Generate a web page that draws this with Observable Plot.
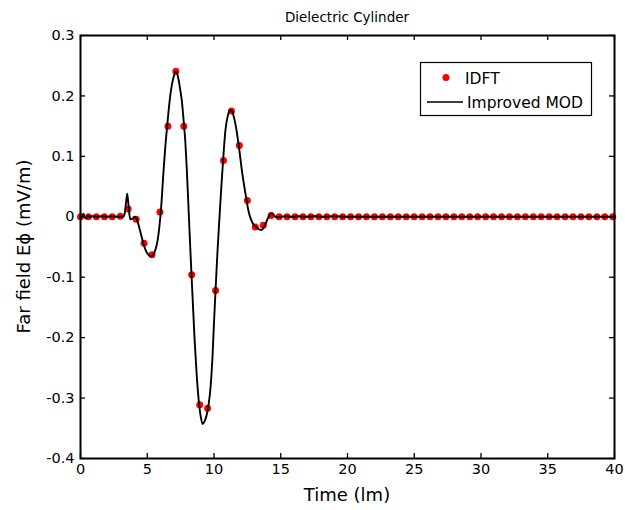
<!DOCTYPE html>
<html>
<head>
<meta charset="utf-8">
<script src="https://cdn.jsdelivr.net/npm/d3@7"></script>
<script src="https://cdn.jsdelivr.net/npm/@observablehq/plot@0.6"></script>
<style>
  body { margin: 0; background: #fff; }
  #chart svg { display: block; }
</style>
</head>
<body>
<div id="chart"></div>
<script>
// ---- Data ----
const titleText = "Dielectric Cylinder";
const xLabel = "Time (lm)";
const yLabel = "Far field E\u03d5 (mV/m)";
const seriesNames = ["IDFT", "Improved MOD"];

const xTicks = [0, 5, 10, 15, 20, 25, 30, 35, 40];
const yTicks = [-0.4, -0.3, -0.2, -0.1, 0, 0.1, 0.2, 0.3];

// IDFT samples (red dots)
const idftTime = [
  0, 0.6, 1.19, 1.79, 2.38, 2.98, 3.57, 4.17, 4.76, 5.36,
  5.95, 6.55, 7.14, 7.74, 8.33, 8.93, 9.52, 10.12, 10.71, 11.31,
  11.9, 12.5, 13.09, 13.69, 14.28, 14.88, 15.47, 16.07, 16.66, 17.26,
  17.85, 18.45, 19.04, 19.64, 20.23, 20.83, 21.42, 22.02, 22.61, 23.21,
  23.8, 24.4, 24.99, 25.59, 26.18, 26.78, 27.37, 27.97, 28.56, 29.16,
  29.75, 30.35, 30.94, 31.54, 32.13, 32.73, 33.32, 33.92, 34.51, 35.11,
  35.7, 36.3, 36.89, 37.49, 38.08, 38.68, 39.27, 39.87
];
const idftValue = [
  0, 0, 0, 0, 0, 0.001, 0.013, -0.004, -0.044, -0.063,
  0.008, 0.150, 0.241, 0.150, -0.096, -0.311, -0.317, -0.122, 0.093, 0.175,
  0.118, 0.027, -0.017, -0.014, 0.002, 0, 0, 0, 0, 0,
  0, 0, 0, 0, 0, 0, 0, 0, 0, 0,
  0, 0, 0, 0, 0, 0, 0, 0, 0, 0,
  0, 0, 0, 0, 0, 0, 0, 0, 0, 0,
  0, 0, 0, 0, 0, 0, 0, 0
];

// Improved MOD (black line)
const modTime = [
  0, 0.12, 0.22, 0.32, 0.42, 0.55, 0.7, 0.9, 1.2, 1.6,
  2.0, 2.4, 2.8, 3.2, 3.3, 3.42, 3.5, 3.6, 3.72, 3.9,
  4.05, 4.15, 4.29, 4.45, 4.59, 4.72, 4.84, 5.09, 5.29, 5.42,
  5.54, 5.66, 5.77, 5.9, 6.04, 6.22, 6.35, 6.5, 6.71, 6.85,
  6.97, 7.14, 7.25, 7.34, 7.45, 7.59, 7.74, 7.85, 7.96, 8.1,
  8.25, 8.4, 8.55, 8.7, 8.85, 9.0, 9.15, 9.3, 9.45, 9.6,
  9.75, 9.88, 10.0, 10.12, 10.25, 10.4, 10.55, 10.68, 10.85, 11.03,
  11.15, 11.24, 11.35, 11.43, 11.61, 11.86, 12.11, 12.36, 12.61, 12.86,
  13.05, 13.23, 13.4, 13.56, 13.72, 13.86, 14.0, 14.11, 14.28, 14.4,
  14.55, 14.73, 15.0, 15.4, 15.8, 16.3, 16.8, 17.5, 18.2, 19.0,
  20.0, 22.0, 25.0, 30.0, 35.0, 40.0
];
const modValue = [
  0, 0.001, 0.005, -0.001, -0.003, 0.002, 0, 0.001, 0, 0.001,
  0, 0.001, 0, 0, 0.004, 0.025, 0.038, 0.018, -0.004, -0.003,
  0, -0.001, -0.009, -0.022, -0.034, -0.045, -0.053, -0.063, -0.066, -0.064,
  -0.059, -0.051, -0.040, -0.018, 0.015, 0.076, 0.115, 0.152, 0.198, 0.219,
  0.231, 0.240, 0.236, 0.228, 0.213, 0.192, 0.155, 0.125, 0.080, 0.010,
  -0.065, -0.135, -0.205, -0.260, -0.303, -0.330, -0.343, -0.338, -0.328, -0.310,
  -0.280, -0.235, -0.175, -0.120, -0.062, -0.005, 0.050, 0.093, 0.142, 0.167,
  0.175, 0.177, 0.175, 0.170, 0.153, 0.117, 0.073, 0.038, 0.007, -0.009,
  -0.015, -0.018, -0.021, -0.022, -0.018, -0.012, -0.004, 0.001, 0.006, 0.005,
  0.001, -0.001, 0, 0.001, 0, 0.001, 0, 0.001, 0, 0.001,
  0, 0, 0, 0, 0, 0
];

// ---- Build tables ----
const idft = idftTime.map((t, i) => ({t, v: idftValue[i]}));
const mod = modTime.map((t, i) => ({t, v: modValue[i]}));

// ---- Layout ----
const W = 625, H = 510;
const mL = 80, mR = 11, mT = 35, mB = 52;
const innerW = W - mL - mR, innerH = H - mT - mB;
const tickLen = 5;
const font = "DejaVu Sans";

const fmtY = d => (Math.abs(d) < 1e-9 ? "0" : String(+d.toFixed(1)));

const plot = Plot.plot({
  width: W,
  height: H,
  marginLeft: mL,
  marginRight: mR,
  marginTop: mT,
  marginBottom: mB,
  style: {fontFamily: font, fontSize: "14.5px", background: "white", color: "black", overflow: "visible"},
  x: {domain: [0, 40], ticks: xTicks, label: null},
  y: {domain: [-0.4, 0.3], ticks: yTicks, label: null},
  marks: [
    Plot.dot(idft, {x: "t", y: "v", r: 3.5, fill: "#ff0000", stroke: "none"}),
    Plot.line(mod, {x: "t", y: "v", stroke: "black", strokeWidth: 1.9, curve: "monotone-x"}),
    Plot.tickX(xTicks, {x: d => d, insetTop: innerH - tickLen, stroke: "black", strokeWidth: 1.3}),
    Plot.tickX(xTicks, {x: d => d, insetBottom: innerH - tickLen, stroke: "black", strokeWidth: 1.3}),
    Plot.tickY(yTicks, {y: d => d, insetRight: innerW - tickLen, stroke: "black", strokeWidth: 1.3}),
    Plot.tickY(yTicks, {y: d => d, insetLeft: innerW - tickLen, stroke: "black", strokeWidth: 1.3}),
    Plot.frame({stroke: "black", strokeWidth: 2}),
    Plot.axisX(xTicks, {anchor: "bottom", tickSize: 0, tickPadding: 5, label: null, tickFormat: d => String(d)}),
    Plot.axisY(yTicks, {anchor: "left", tickSize: 0, tickPadding: 6, label: null, tickFormat: fmtY})
  ]
});

document.getElementById("chart").appendChild(plot);

// ---- Title, axis labels, legend ----
const svg = d3.select(plot);

svg.append("text")
  .attr("x", mL + innerW / 2).attr("y", 22)
  .attr("text-anchor", "middle")
  .style("font-family", font).style("font-size", "13.5px")
  .attr("fill", "black")
  .text(titleText);

svg.append("text")
  .attr("x", mL + innerW / 2).attr("y", 501)
  .attr("text-anchor", "middle")
  .style("font-family", font).style("font-size", "18px")
  .attr("fill", "black")
  .text(xLabel);

svg.append("text")
  .attr("transform", `translate(30,${mT + innerH / 2}) rotate(-90)`)
  .attr("text-anchor", "middle")
  .style("font-family", font).style("font-size", "18px")
  .attr("fill", "black")
  .text(yLabel);

const lg = svg.append("g").attr("text-anchor", "start");
lg.append("rect")
  .attr("x", 420.5).attr("y", 62.5).attr("width", 171).attr("height", 53)
  .attr("fill", "white").attr("stroke", "black").attr("stroke-width", 1.2);
lg.append("circle")
  .attr("cx", 446).attr("cy", 77.5).attr("r", 3.5).attr("fill", "#ff0000");
lg.append("text")
  .attr("x", 465).attr("y", 83.5)
  .attr("text-anchor", "start")
  .style("font-family", font).style("font-size", "15.5px")
  .attr("fill", "black")
  .text(seriesNames[0]);
lg.append("line")
  .attr("x1", 427).attr("x2", 463).attr("y1", 102).attr("y2", 102)
  .attr("stroke", "black").attr("stroke-width", 1.3);
lg.append("text")
  .attr("x", 467).attr("y", 107.5)
  .attr("text-anchor", "start")
  .style("font-family", font).style("font-size", "15.5px")
  .attr("fill", "black")
  .text(seriesNames[1]);
</script>
</body>
</html>
